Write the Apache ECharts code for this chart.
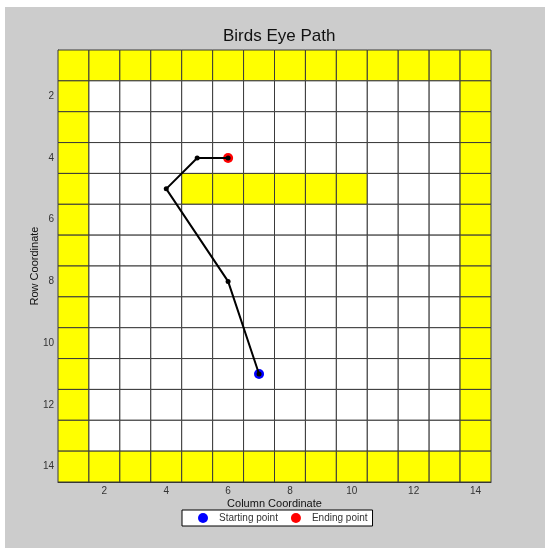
<!DOCTYPE html>
<html>
<head>
<meta charset="utf-8">
<script src="https://cdn.jsdelivr.net/npm/echarts@6/dist/echarts.min.js"></script>
<style>
  html, body { margin: 0; padding: 0; background: #fff; }
  #wrap { position: absolute; left: 5px; top: 7px; width: 540px; height: 541px; background: #cccccc; }
  #birdChart { width: 540px; height: 541px; }
</style>
</head>
<body>
<div id="wrap"><div id="birdChart"></div></div>
<script>
// map rows 1..14 (1 = yellow / wall, 0 = open)
var mapRows = [
  '11111111111111',
  '10000000000001',
  '10000000000001',
  '10000000000001',
  '10001111110001',
  '10000000000001',
  '10000000000001',
  '10000000000001',
  '10000000000001',
  '10000000000001',
  '10000000000001',
  '10000000000001',
  '10000000000001',
  '11111111111111'
];
var pathCols = [7, 6, 4, 5, 6];
var pathRows = [11, 8, 5, 4, 4];
var startPoint = [7, 11];
var endPoint = [6, 4];
var tickLabels = [2, 4, 6, 8, 10, 12, 14];

var cells = [];
mapRows.forEach(function (row, r) {
  row.split('').forEach(function (v, c) {
    cells.push([c + 1, r + 1, +v]);
  });
});
var pathData = pathCols.map(function (c, i) { return [c, pathRows[i]]; });

var chart = echarts.init(document.getElementById('birdChart'));

function axis(name, extra) {
  return Object.assign({
    type: 'value',
    min: 0.5,
    max: 14.5,
    name: name,
    nameLocation: 'middle',
    nameMoveOverlap: false,
    nameTextStyle: { color: '#111', fontSize: 11, fontFamily: 'Arial' },
    axisLine: { show: true, lineStyle: { color: '#333' } },
    axisTick: { show: false },
    splitLine: { show: false },
    axisLabel: { customValues: tickLabels, color: '#333', fontSize: 10, fontFamily: 'Arial', margin: 4 }
  }, extra);
}

chart.setOption({
  animation: false,
  title: {
    text: 'Birds Eye Path',
    left: 213,
    top: 16,
    textStyle: { fontSize: 17, fontWeight: 'normal', color: '#111', fontFamily: 'Arial' }
  },
  legend: {
    data: ['Starting point', 'Ending point'],
    left: 177,
    top: 503,
    backgroundColor: '#fff',
    borderColor: '#000',
    borderWidth: 1,
    borderRadius: 0,
    padding: [3, 5, 3, 16],
    itemGap: 13,
    itemWidth: 10,
    itemHeight: 10,
    textStyle: { color: '#333', fontSize: 10, fontFamily: 'Arial', padding: [0, 0, 0, 6] }
  },
  grid: { left: 53, top: 43, width: 433, height: 432, containLabel: false },
  xAxis: axis('Column Coordinate', { nameGap: 16 }),
  yAxis: axis('Row Coordinate', { inverse: true, nameGap: 18 }),
  series: [
    {
      type: 'custom',
      silent: true,
      data: cells,
      encode: { x: 0, y: 1 },
      renderItem: function (params, api) {
        var p0 = api.coord([api.value(0) - 0.5, api.value(1) - 0.5]);
        var p1 = api.coord([api.value(0) + 0.5, api.value(1) + 0.5]);
        return {
          type: 'rect',
          shape: { x: p0[0], y: p0[1], width: p1[0] - p0[0], height: p1[1] - p0[1] },
          style: { fill: api.value(2) ? '#ffff00' : '#ffffff', stroke: '#3a3a3a', lineWidth: 1 }
        };
      },
      z: 1
    },
    {
      name: 'Starting point',
      type: 'scatter',
      data: [startPoint],
      symbol: 'circle',
      symbolSize: 10,
      itemStyle: { color: '#0000ff', opacity: 1 },
      z: 3
    },
    {
      name: 'Ending point',
      type: 'scatter',
      data: [endPoint],
      symbol: 'circle',
      symbolSize: 10,
      itemStyle: { color: '#ff0000', opacity: 1 },
      z: 3
    },
    {
      name: 'path',
      type: 'line',
      data: pathData,
      symbol: 'circle',
      symbolSize: 5,
      showSymbol: true,
      lineStyle: { color: '#000', width: 2 },
      itemStyle: { color: '#000' },
      z: 4
    }
  ]
});
</script>
</body>
</html>
